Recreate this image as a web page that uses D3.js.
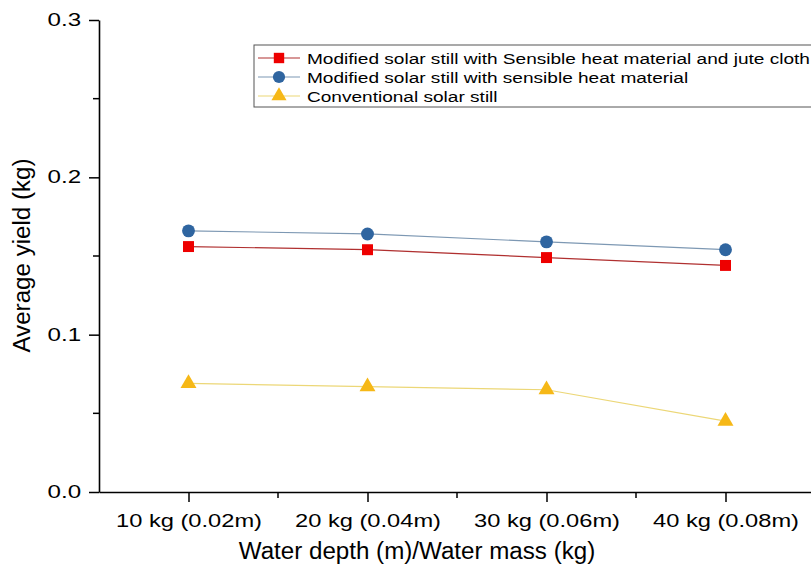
<!DOCTYPE html>
<html>
<head>
<meta charset="utf-8">
<script src="https://cdn.jsdelivr.net/npm/d3@7"></script>
<style>
  body { margin: 0; background: #fff; }
  svg { display: block; font-family: "Liberation Sans", Arial, sans-serif; }
</style>
</head>
<body>
<div id="chart"></div>
<script>
// data
const categories = ['10 kg (0.02m)', '20 kg (0.04m)', '30 kg (0.06m)', '40 kg (0.08m)'];
const jute = [0.156, 0.154, 0.149, 0.144];
const sensible = [0.166, 0.164, 0.159, 0.154];
const conventional = [0.069, 0.067, 0.065, 0.045];
const seriesNames = [
  'Modified solar still with Sensible heat material and jute cloth',
  'Modified solar still with sensible heat material',
  'Conventional solar still'
];
const yTicks = [0, 0.1, 0.2, 0.3];
const yMinor = [0.05, 0.15, 0.25];

const series = [
  { name: seriesNames[0], values: jute, fill: '#ee0000', line: '#b03030', symbol: d3.symbolSquare, size: 120 },
  { name: seriesNames[1], values: sensible, fill: '#2f65a0', line: '#7d98b3', symbol: d3.symbolCircle, size: 130 },
  { name: seriesNames[2], values: conventional, fill: '#f6b817', line: '#ecd777', symbol: d3.symbolTriangle, size: 110 }
];

const W = 811, H = 572;
const svg = d3.select('#chart').append('svg').attr('width', W).attr('height', H);

// x is an index scale, half a step of padding on each side
const x = d3.scaleLinear().domain([0.5, 4.5]).range([99, 815]);
const y = d3.scaleLinear().domain([0, 0.3]).range([492, 20]);

// axes
const xAxis = svg.append('g').attr('transform', `translate(0,${y(0)})`)
  .call(d3.axisBottom(x).tickValues([1, 2, 3, 4]).tickFormat((d) => categories[d - 1])
    .tickSize(10).tickSizeOuter(0));
xAxis.append('g').selectAll('line').data([1.5, 2.5, 3.5, 4.5]).enter()
  .append('line').attr('x1', (d) => x(d)).attr('x2', (d) => x(d))
  .attr('y1', 0).attr('y2', 6).attr('stroke', '#000').attr('stroke-width', 1.5);

const yAxis = svg.append('g').attr('transform', `translate(${x(0.5)},0)`)
  .call(d3.axisLeft(y).tickValues(yTicks).tickFormat(d3.format('.1f'))
    .tickSize(10).tickSizeOuter(0));
yAxis.append('g').selectAll('line').data(yMinor).enter()
  .append('line').attr('y1', (d) => y(d)).attr('y2', (d) => y(d))
  .attr('x1', 0).attr('x2', -6).attr('stroke', '#000').attr('stroke-width', 1.5);

[xAxis, yAxis].forEach((a) => {
  a.select('.domain').attr('stroke', '#000').attr('stroke-width', 1.6);
  a.selectAll('.tick line').attr('stroke', '#000').attr('stroke-width', 1.5);
  a.selectAll('.tick text').attr('fill', '#000')
    .attr('font-family', '"Liberation Sans", Arial, sans-serif');
});
// the original glyphs are wider than Arial, so stretch them a bit
xAxis.selectAll('.tick text').attr('font-size', 18.5).attr('y', 35).attr('dy', 0)
  .attr('transform', 'scale(1.28,1)');
yAxis.selectAll('.tick text').attr('font-size', 17.5).attr('x', -13)
  .attr('transform', 'scale(1.38,1)');

// axis titles
svg.append('text').attr('transform', 'translate(417,559) scale(1.05,1)')
  .attr('text-anchor', 'middle').attr('font-size', 23).text('Water depth (m)/Water mass (kg)');
svg.append('text').attr('transform', 'translate(29.5,255.5) rotate(-90) scale(1.05,1)')
  .attr('text-anchor', 'middle').attr('font-size', 23).text('Average yield (kg)');

// lines and markers
const line = d3.line().x((d, i) => x(i + 1)).y((d) => y(d));
series.forEach((s) => {
  svg.append('path').datum(s.values).attr('d', line)
    .attr('fill', 'none').attr('stroke', s.line).attr('stroke-width', 1.2);
  svg.append('g').selectAll('path').data(s.values).enter()
    .append('path')
    .attr('d', d3.symbol().type(s.symbol).size(s.size))
    .attr('transform', (d, i) => `translate(${x(i + 1)},${y(d)})`)
    .attr('fill', s.fill);
});

// legend
const lg = svg.append('g').attr('transform', 'translate(254,45)');
lg.append('rect').attr('x', 0).attr('y', 0).attr('width', 580).attr('height', 62)
  .attr('fill', '#fff').attr('stroke', '#555').attr('stroke-width', 1);
series.forEach((s, i) => {
  const row = lg.append('g').attr('transform', `translate(0,${13 + i * 19})`);
  row.append('line').attr('x1', 4).attr('x2', 46).attr('stroke', s.line).attr('stroke-width', 1.2);
  row.append('path').attr('d', d3.symbol().type(s.symbol).size(s.size * 0.9))
    .attr('transform', 'translate(25,0)').attr('fill', s.fill);
  row.append('text').attr('transform', 'translate(53,5.5) scale(1.23,1)')
    .attr('font-size', 15.5).text(s.name);
});
</script>
</body>
</html>
